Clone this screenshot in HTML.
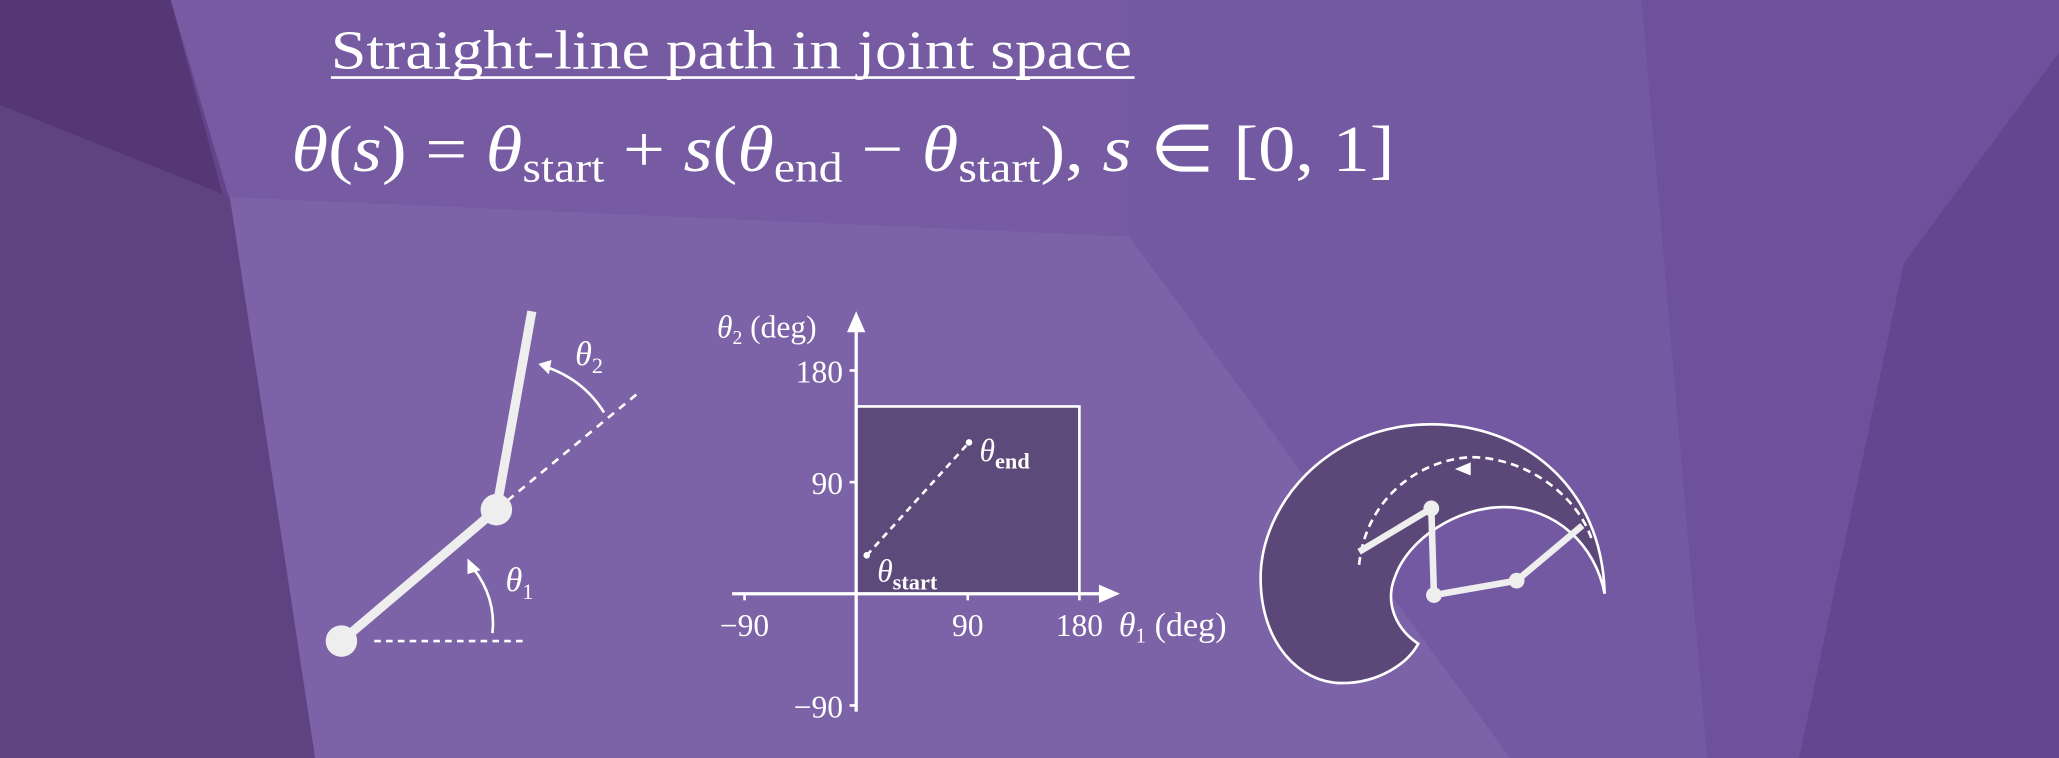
<!DOCTYPE html>
<html><head><meta charset="utf-8"><style>
html,body{margin:0;padding:0;width:2059px;height:758px;overflow:hidden;background:#7558a0}
svg{display:block}
text{font-family:"Liberation Serif",serif;fill:#fff}
</style></head><body>
<svg id="root" width="2059" height="758" viewBox="0 0 1568 577" preserveAspectRatio="none" xmlns="http://www.w3.org/2000/svg">
<g>
<rect width="1568" height="577" fill="#7359a1"/>
<polygon points="0,0 130,0 300,577 0,577" fill="#62458a"/>
<polygon points="0,0 130,0 170,150 0,80" fill="#563775"/>
<polygon points="0,80 175,150 240,577 0,577" fill="#5e4282"/>
<polygon points="175,150 860,180 1150,577 240,577" fill="#7c62a6"/>
<polygon points="130,0 860,0 860,180 175,150" fill="#765ba3"/>
<polygon points="1250,0 1568,0 1568,577 1300,577" fill="#6e519c"/>
<polygon points="1450,200 1568,40 1568,577 1370,577" fill="#64468f"/>
</g>
<text x="252" y="52" font-size="42" textLength="610" lengthAdjust="spacingAndGlyphs">Straight-line path in joint space</text>
<line x1="252" y1="59" x2="864" y2="59" stroke="#fff" stroke-width="2"/>
<text x="222" y="130" font-size="50" textLength="840" lengthAdjust="spacingAndGlyphs"><tspan font-style="italic">θ</tspan>(<tspan font-style="italic">s</tspan>) = <tspan font-style="italic">θ</tspan><tspan font-size="32" dy="8">start</tspan><tspan dy="-8"> + </tspan><tspan font-style="italic">s</tspan>(<tspan font-style="italic">θ</tspan><tspan font-size="32" dy="8">end</tspan><tspan dy="-8"> − </tspan><tspan font-style="italic">θ</tspan><tspan font-size="32" dy="8">start</tspan><tspan dy="-8">), </tspan><tspan font-style="italic">s</tspan> ∈ [0, 1]</text>

<g stroke="#fff" fill="none">
<line x1="285" y1="488" x2="400" y2="488" stroke-width="2" stroke-dasharray="5,4"/>
<line x1="378" y1="388" x2="485" y2="300" stroke-width="2" stroke-dasharray="6,5"/>
<line x1="260" y1="488" x2="378" y2="388" stroke="#eee" stroke-width="7"/>
<line x1="378" y1="388" x2="405" y2="237" stroke="#eee" stroke-width="7"/>
<circle cx="260" cy="488" r="12" fill="#eee" stroke="none"/>
<circle cx="378" cy="388" r="12" fill="#eee" stroke="none"/>
<path d="M375,482 Q378,455 360,432" stroke-width="2"/>
<polygon points="356,425 366,434 356,437" fill="#fff" stroke="none"/>
<path d="M460,314 Q445,290 418,280" stroke-width="2"/>
<polygon points="410,277 420,274 418,285" fill="#fff" stroke="none"/>
</g>
<text x="385" y="450" font-size="26" font-style="italic">θ<tspan font-size="17" font-style="normal" dy="6">1</tspan></text>
<text x="438" y="278" font-size="26" font-style="italic">θ<tspan font-size="17" font-style="normal" dy="6">2</tspan></text>

<g id="chart"></g>

<g>
<path d="M1222,452 C1220,370 1160,323 1090,323 C1010,323 960,385 960,440 C960,490 990,520 1022,520 C1050,520 1072,505 1080,490 C1062,478 1055,458 1062,440 C1072,410 1110,386 1145,386 C1185,386 1215,415 1222,452 Z" fill="#5b4878" stroke="#fff" stroke-width="2"/>
<path d="M1035,430 C1040,380 1080,350 1120,348 C1160,348 1200,375 1212,410" fill="none" stroke="#fff" stroke-width="2" stroke-dasharray="6,4"/>
<polygon points="1108,357 1120,352 1120,362" fill="#fff"/>
<polyline points="1035,420 1090,387 1092,453 1155,442 1205,400" fill="none" stroke="#eee" stroke-width="5"/>
<circle cx="1090" cy="387" r="6" fill="#eee"/>
<circle cx="1092" cy="453" r="6" fill="#eee"/>
<circle cx="1155" cy="442" r="6" fill="#eee"/>
</g>
</svg>
<script>
const xTicks=[-90,90,180];
const yTicks=[180,90,-90];
const regionTheta1=[0,180];
const regionTheta2=[0,151];
const pathTheta1=[8.5,91];
const pathTheta2=[31,122];
const pathLabels=['start','end'];
const NS='http://www.w3.org/2000/svg';
const ox=652,oy=452,k=85/90;
const X=v=>ox+v*k, Y=v=>oy-v*k;
const g=document.getElementById('chart');
function mk(t,a){const e=document.createElementNS(NS,t);for(const n in a)e.setAttribute(n,a[n]);g.appendChild(e);return e;}
const reg=mk('rect',{x:X(regionTheta1[0]),y:Y(regionTheta2[1]),width:X(regionTheta1[1])-X(regionTheta1[0]),height:Y(regionTheta2[0])-Y(regionTheta2[1]),fill:'#5c4a7a',stroke:'#fff','stroke-width':2});


const xa=mk('line',{x1:X(-100),y1:oy,x2:X(200),y2:oy,stroke:'#fff','stroke-width':2.5});


const xh=mk('polygon',{points:`${X(200)+12},${oy} ${X(200)-4},${oy-7} ${X(200)-4},${oy+7}`,fill:'#fff'});


const ya=mk('line',{x1:ox,y1:Y(-95),x2:ox,y2:Y(215),stroke:'#fff','stroke-width':2.5});


const yh=mk('polygon',{points:`${ox},${Y(215)-12} ${ox-7},${Y(215)+4} ${ox+7},${Y(215)+4}`,fill:'#fff'});


xTicks.forEach(v=>{
 const t=mk('line',{x1:X(v),y1:oy,x2:X(v),y2:oy+5,stroke:'#fff','stroke-width':2});
 
 
 const l=mk('text',{x:X(v),y:oy+32,'font-size':24,'text-anchor':'middle'});
 l.textContent=v<0?'−'+(-v):String(v);
 
 
});
yTicks.forEach(v=>{
 const t=mk('line',{x1:ox-5,y1:Y(v),x2:ox,y2:Y(v),stroke:'#fff','stroke-width':2});
 
 
 const l=mk('text',{x:ox-10,y:Y(v)+9,'font-size':24,'text-anchor':'end'});
 l.textContent=v<0?'−'+(-v):String(v);
 
 
});
const xt=mk('text',{x:852,y:484,'font-size':26});
xt.innerHTML='<tspan font-style="italic">θ</tspan><tspan font-size="16" dy="5">1</tspan><tspan dy="-5"> (deg)</tspan>';


const yt=mk('text',{x:546,y:257,'font-size':24});
yt.innerHTML='<tspan font-style="italic">θ</tspan><tspan font-size="15" dy="5">2</tspan><tspan dy="-5"> (deg)</tspan>';


const pl=mk('line',{x1:X(pathTheta1[0]),y1:Y(pathTheta2[0]),x2:X(pathTheta1[1]),y2:Y(pathTheta2[1]),stroke:'#fff','stroke-width':2,'stroke-dasharray':'5,4'});


pathTheta1.forEach((v,i)=>{
 const c=mk('circle',{cx:X(v),cy:Y(pathTheta2[i]),r:2.5,fill:'#fff'});
 
 
 const l=mk('text',{x:X(v)+8,y:Y(pathTheta2[i])+(i?14:20),'font-size':24});
 l.innerHTML='<tspan font-style="italic">θ</tspan><tspan font-size="17" font-weight="bold" dy="6">'+pathLabels[i]+'</tspan>';
 
 
});
</script>
</body></html>
